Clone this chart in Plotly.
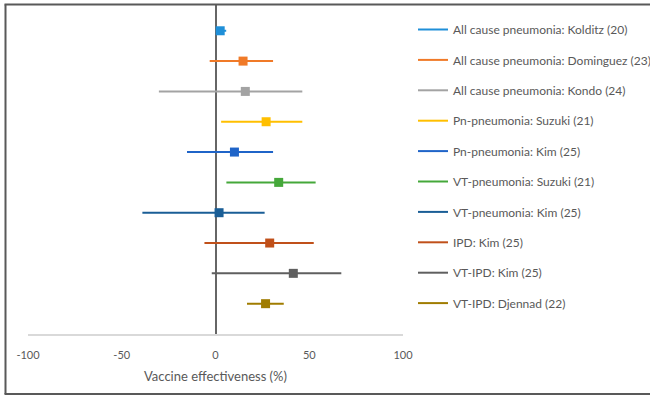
import plotly.graph_objects as go

# Study labels, top to bottom
studies = [
    "All cause pneumonia: Kolditz (20)",
    "All cause pneumonia: Dominguez (23)",
    "All cause pneumonia: Kondo (24)",
    "Pn-pneumonia: Suzuki (21)",
    "Pn-pneumonia: Kim (25)",
    "VT-pneumonia: Suzuki (21)",
    "VT-pneumonia: Kim (25)",
    "IPD: Kim (25)",
    "VT-IPD: Kim (25)",
    "VT-IPD: Djennad (22)",
]
# Point estimates and 95% CI bounds (%)
ve = [2.5, 14.7, 15.9, 27.0, 10.1, 33.7, 1.9, 28.9, 41.5, 26.7]
ci_low = [0.2, -3.1, -30.2, 3.0, -15.2, 5.8, -39.0, -5.9, -2.0, 16.8]
ci_high = [5.7, 30.7, 46.3, 46.3, 30.7, 53.4, 26.2, 52.4, 67.1, 36.4]

colors = [
    "#1F8FD8", "#F07A28", "#A3A3A3", "#FFBF00", "#1F64C8",
    "#45A83A", "#1A5E96", "#C0501A", "#5F5F5F", "#A07C00",
]

x_ticks = [-100, -50, 0, 50, 100]
x_tick_text = ["-100", "-50", "0", "50", "100"]

FONT = "Lato, 'Open Sans', sans-serif"
TEXT_GREY = "#595959"

fig = go.Figure()
n = len(studies)
for i, name in enumerate(studies):
    row = n - i
    fig.add_trace(go.Scatter(
        x=[ve[i]], y=[row],
        mode="markers",
        marker=dict(symbol="square", size=9, color=colors[i]),
        error_x=dict(
            type="data", symmetric=False,
            array=[ci_high[i] - ve[i]],
            arrayminus=[ve[i] - ci_low[i]],
            color=colors[i], thickness=2, width=0,
        ),
        showlegend=False,
        hoverinfo="skip",
    ))
    # legend entry drawn as a plain line sample
    fig.add_trace(go.Scatter(
        x=[None], y=[None], mode="lines",
        line=dict(color=colors[i], width=2),
        name=name, legendgroup=f"g{i}", showlegend=True,
    ))

L, T, B, W = 28, 5, 62, 375
H = 396 - T - B

def px_x(p):
    return (p - L) / W

def px_y(p):
    return (396 - B - p) / H

# chart frame: left, top and bottom edges
frame = dict(type="line", xref="paper", yref="paper",
             line=dict(color="#595959", width=2), layer="above")
shapes = [
    dict(frame, x0=px_x(5.5), x1=px_x(5.5), y0=px_y(394), y1=px_y(4.5)),
    dict(frame, x0=px_x(4.5), x1=px_x(660), y0=px_y(4.5), y1=px_y(4.5)),
    dict(frame, x0=px_x(4.5), x1=px_x(660), y0=px_y(394), y1=px_y(394)),
]

fig.update_layout(
    width=650, height=396,
    margin=dict(l=L, r=650 - L - W, t=T, b=B, autoexpand=False),
    paper_bgcolor="white", plot_bgcolor="white",
    font=dict(family=FONT, size=11, color=TEXT_GREY),
    xaxis=dict(
        range=[-100, 100], tickvals=x_ticks, ticktext=x_tick_text,
        showgrid=False, showline=True, linecolor="#D9D9D9", linewidth=2,
        zeroline=True, zerolinecolor="#666666", zerolinewidth=2,
        ticks="", ticklabelstandoff=10,
        tickfont=dict(size=11, color=TEXT_GREY),
        title=dict(text="Vaccine effectiveness (%)", standoff=12,
                   font=dict(size=13, color=TEXT_GREY)),
        fixedrange=True,
    ),
    yaxis=dict(
        range=[0, 10.85], showgrid=False, showline=False, zeroline=False,
        showticklabels=False, ticks="", fixedrange=True,
    ),
    legend=dict(
        x=px_x(413), xanchor="left", y=px_y(15), yanchor="top",
        font=dict(size=12, color=TEXT_GREY),
        tracegroupgap=11.4, traceorder="grouped",
        bgcolor="rgba(0,0,0,0)",
    ),
    shapes=shapes,
)

fig.write_html("out.html")
